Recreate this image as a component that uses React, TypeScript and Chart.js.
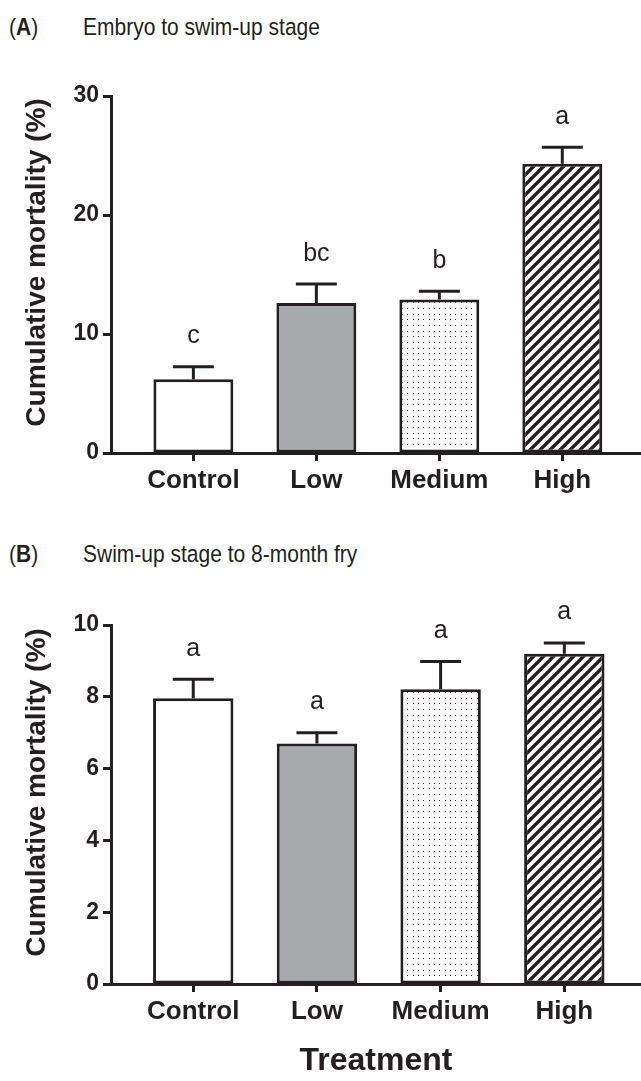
import React, { useEffect, useRef } from "react";
import { Chart, registerables } from "chart.js";

Chart.register(...registerables);

const categories = ["Control", "Low", "Medium", "High"];

const meansA = [6.2, 12.6, 12.9, 24.3];
const errsA = [1.04, 1.6, 0.7, 1.4];
const lettersA = ["c", "bc", "b", "a"];
const yTicksA = [0, 10, 20, 30];

const meansB = [7.96, 6.7, 8.21, 9.2];
const errsB = [0.53, 0.3, 0.77, 0.3];
const lettersB = ["a", "a", "a", "a"];
const yTicksB = [0, 2, 4, 6, 8, 10];

const titleA = "Embryo to swim-up stage";
const titleB = "Swim-up stage to 8-month fry";
const yTitle = "Cumulative mortality (%)";
const xTitle = "Treatment";

const INK = "#231f20";
const FONT = "'Liberation Sans', Arial, Helvetica, sans-serif";

function makeDots(): CanvasPattern | string {
  const c = document.createElement("canvas");
  c.width = 16;
  c.height = 17;
  const g = c.getContext("2d");
  if (!g) return "#fff";
  g.fillStyle = "#ffffff";
  g.fillRect(0, 0, 16, 17);
  g.fillStyle = "#2a2a2a";
  const xs = [2, 7, 13];
  const ys = [2, 8, 13];
  xs.forEach((x) => ys.forEach((y) => g.fillRect(x, y, 1, 1)));
  return g.createPattern(c, "repeat") || "#fff";
}

function makeHatch(): CanvasPattern | string {
  const s = 10;
  const c = document.createElement("canvas");
  c.width = s;
  c.height = s;
  const g = c.getContext("2d");
  if (!g) return "#000";
  g.fillStyle = "#ffffff";
  g.fillRect(0, 0, s, s);
  g.strokeStyle = INK;
  g.lineWidth = 3.4;
  [0, s, 2 * s].forEach((k) => {
    g.beginPath();
    g.moveTo(k + 5, -5);
    g.lineTo(-5, k + 5);
    g.stroke();
  });
  return g.createPattern(c, "repeat") || "#000";
}

type PanelProps = {
  means: number[];
  errs: number[];
  letters: string[];
  yTicks: number[];
  xMin: number;
  xMax: number;
  width: number;
  height: number;
  padTop: number;
  xHeight: number;
  showXTitle: boolean;
};

function Panel(p: PanelProps) {
  const ref = useRef<HTMLCanvasElement | null>(null);
  useEffect(() => {
    if (!ref.current) return;
    const fills = ["#ffffff", "#a7a9ac", makeDots(), makeHatch()];
    const yMax = p.yTicks[p.yTicks.length - 1];
    const yStep = p.yTicks[1] - p.yTicks[0];

    const overlay = {
      id: "overlay",
      afterDatasetsDraw(chart: any) {
        const ctx = chart.ctx;
        const xs = chart.scales.x;
        const ys = chart.scales.y;
        ctx.save();
        ctx.strokeStyle = INK;
        ctx.fillStyle = INK;
        ctx.lineWidth = 3;
        p.means.forEach((m, i) => {
          const x = xs.getPixelForValue(i);
          const y0 = ys.getPixelForValue(m);
          const y1 = ys.getPixelForValue(m + p.errs[i]);
          ctx.beginPath();
          ctx.moveTo(x, y0);
          ctx.lineTo(x, y1);
          ctx.moveTo(x - 20.5, y1);
          ctx.lineTo(x + 20.5, y1);
          ctx.stroke();
          ctx.font = `25px ${FONT}`;
          ctx.textAlign = "center";
          ctx.textBaseline = "alphabetic";
          ctx.fillText(p.letters[i], x, y1 - 23.5);
        });
        ctx.restore();
      },
      afterDraw(chart: any) {
        const ctx = chart.ctx;
        const a = chart.chartArea;
        ctx.save();
        ctx.translate(37, (a.top + a.bottom) / 2 - 12);
        ctx.rotate(-Math.PI / 2);
        ctx.font = `bold 28px ${FONT}`;
        ctx.fillStyle = INK;
        ctx.textAlign = "center";
        ctx.textBaseline = "middle";
        ctx.fillText(yTitle, 0, 0);
        ctx.restore();
      },
    };

    const chart = new Chart(ref.current, {
      type: "bar",
      data: {
        datasets: [
          {
            data: p.means.map((m, i) => ({ x: i, y: m })),
            backgroundColor: fills as any,
            borderColor: INK,
            borderWidth: 3,
            borderSkipped: false,
            categoryPercentage: 1,
            barPercentage: 0.65,
          },
        ],
      },
      options: {
        animation: false,
        responsive: false,
        events: [],
        layout: {
          padding: { top: p.padTop, left: 0, right: 0, bottom: 0 },
        },
        plugins: {
          legend: { display: false },
          tooltip: { enabled: false },
          title: { display: false },
        },
        scales: {
          x: {
            type: "linear",
            min: p.xMin,
            max: p.xMax,
            offset: false,
            afterBuildTicks: (scale: any) => {
              scale.ticks = categories.map((_, i) => ({ value: i }));
            },
            afterFit: (scale: any) => {
              scale.height = p.xHeight;
            },
            ticks: {
              autoSkip: false,
              maxRotation: 0,
              padding: 4,
              color: INK,
              font: { family: FONT, size: 26, weight: "bold" },
              callback: (v: any) => categories[v as number] ?? "",
            },
            grid: {
              display: true,
              offset: false,
              drawOnChartArea: false,
              drawTicks: true,
              tickLength: 8,
              tickWidth: 3,
              tickColor: INK,
            },
            border: { display: true, width: 3, color: INK },
            title: {
              display: p.showXTitle,
              text: xTitle,
              color: INK,
              font: { family: FONT, size: 32, weight: "bold" },
              padding: { top: 0, bottom: 0 },
            },
          },
          y: {
            min: 0,
            max: yMax,
            afterBuildTicks: (scale: any) => {
              scale.ticks = p.yTicks.map((v) => ({ value: v }));
            },
            afterFit: (scale: any) => {
              scale.width = 111;
            },
            ticks: {
              stepSize: yStep,
              padding: 4,
              color: INK,
              font: { family: FONT, size: 23, weight: "bold" },
            },
            grid: {
              display: true,
              offset: false,
              drawOnChartArea: false,
              drawTicks: true,
              tickLength: 8,
              tickWidth: 3,
              tickColor: INK,
            },
            border: { display: true, width: 3, color: INK },
          },
        },
      },
      plugins: [overlay],
    } as any);
    return () => chart.destroy();
  }, []);
  return (
    <canvas
      ref={ref}
      width={p.width}
      height={p.height}
      style={{ width: p.width, height: p.height, display: "block" }}
    />
  );
}

function PanelTitle(props: { letter: string; text: string; top: number }) {
  const base: React.CSSProperties = {
    position: "absolute",
    top: props.top,
    fontFamily: FONT,
    fontSize: 21,
    lineHeight: "21px",
    color: INK,
    whiteSpace: "nowrap",
    transform: "scaleY(1.12)",
    transformOrigin: "0 17.8px",
  };
  return (
    <>
      <div style={{ ...base, left: 9 }}>
        (<b>{props.letter}</b>)
      </div>
      <div style={{ ...base, left: 83 }}>{props.text}</div>
    </>
  );
}

export default function App() {
  return (
    <div
      style={{
        position: "absolute",
        left: 0,
        top: 0,
        width: 641,
        height: 1081,
        background: "#ffffff",
      }}
    >
      <PanelTitle letter="A" text={titleA} top={17.2} />
      <PanelTitle letter="B" text={titleB} top={544.2} />
      <div style={{ position: "absolute", left: 0, top: 0 }}>
        <Panel
          means={meansA}
          errs={errsA}
          letters={lettersA}
          yTicks={yTicksA}
          xMin={-0.67}
          xMax={3.64}
          width={641}
          height={503}
          padTop={96}
          xHeight={50}
          showXTitle={false}
        />
      </div>
      <div style={{ position: "absolute", left: 0, top: 520 }}>
        <Panel
          means={meansB}
          errs={errsB}
          letters={lettersB}
          yTicks={yTicksB}
          xMin={-0.665}
          xMax={3.62}
          width={641}
          height={560}
          padTop={105}
          xHeight={96}
          showXTitle={true}
        />
      </div>
    </div>
  );
}
